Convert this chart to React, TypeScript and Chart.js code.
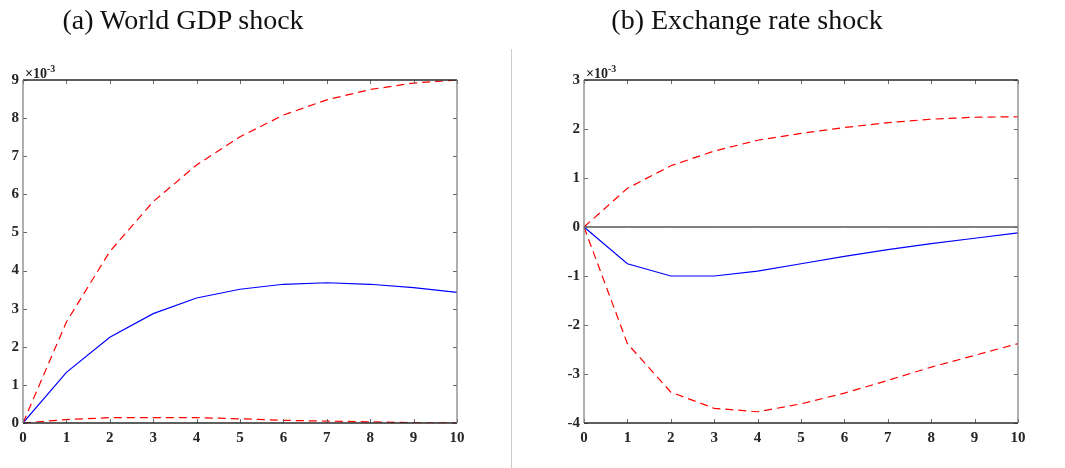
import React, { useEffect, useRef } from "react";
import { Chart, registerables } from "chart.js";

Chart.register(...registerables);

// Horizon (periods)
const xLabels = ["0", "1", "2", "3", "4", "5", "6", "7", "8", "9", "10"];

// (a) World GDP shock, values in units of 10^-3
const gdpUpper = [0, 2.65, 4.5, 5.81, 6.77, 7.51, 8.08, 8.48, 8.75, 8.92, 9.0];
const gdpIrf = [0, 1.33, 2.25, 2.87, 3.28, 3.51, 3.64, 3.68, 3.64, 3.55, 3.43];
const gdpLower = [0, 0.09, 0.14, 0.14, 0.14, 0.11, 0.07, 0.05, 0.03, 0.01, 0.0];

// (b) Exchange rate shock, values in units of 10^-3
const fxUpper = [0, 0.79, 1.25, 1.55, 1.77, 1.91, 2.03, 2.13, 2.2, 2.24, 2.25];
const fxIrf = [0, -0.75, -1.0, -1.0, -0.9, -0.75, -0.6, -0.46, -0.34, -0.23, -0.12];
const fxLower = [0, -2.38, -3.37, -3.7, -3.77, -3.61, -3.39, -3.13, -2.86, -2.62, -2.38];
const zeroLine = [0, 0, 0, 0, 0, 0, 0, 0, 0, 0, 0];

const titleA = "(a) World GDP shock";
const titleB = "(b) Exchange rate shock";
const exponentBase = "×10";
const exponentPower = "-3";

const tickFont = { family: "'Liberation Serif', 'Times New Roman', serif", size: 15, weight: "bold" as const };

const boxPlugin = {
  id: "matlabBox",
  afterDraw(chart: any) {
    const { ctx, chartArea } = chart;
    const { left, right, top, bottom } = chartArea;
    const xs = chart.scales.x;
    const ys = chart.scales.y;
    ctx.save();
    // inward ticks
    ctx.strokeStyle = "#6b6b6b";
    ctx.lineWidth = 1;
    ctx.beginPath();
    xs.ticks.forEach((_t: any, i: number) => {
      const px = Math.round(xs.getPixelForTick(i)) + 0.5;
      ctx.moveTo(px, bottom);
      ctx.lineTo(px, bottom - 4);
      ctx.moveTo(px, top);
      ctx.lineTo(px, top + 4);
    });
    ys.ticks.forEach((t: any) => {
      const py = Math.round(ys.getPixelForValue(t.value)) + 0.5;
      ctx.moveTo(left, py);
      ctx.lineTo(left + 4, py);
      ctx.moveTo(right, py);
      ctx.lineTo(right - 4, py);
    });
    ctx.stroke();
    // box
    ctx.lineWidth = 1.3;
    ctx.strokeStyle = "#2a2a2a";
    ctx.beginPath();
    ctx.moveTo(left, top);
    ctx.lineTo(right, top);
    ctx.moveTo(left, bottom);
    ctx.lineTo(right, bottom);
    ctx.stroke();
    ctx.strokeStyle = "#858585";
    ctx.beginPath();
    ctx.moveTo(left, top);
    ctx.lineTo(left, bottom);
    ctx.moveTo(right, top);
    ctx.lineTo(right, bottom);
    ctx.stroke();
    // exponent label
    ctx.fillStyle = "#222";
    ctx.textBaseline = "alphabetic";
    ctx.textAlign = "left";
    ctx.font = "bold 14px 'Liberation Serif', serif";
    const bx = left + 2;
    const by = top - 2;
    ctx.fillText(exponentBase, bx, by);
    const w = ctx.measureText(exponentBase).width;
    ctx.font = "bold 10px 'Liberation Serif', serif";
    ctx.fillText(exponentPower, bx + w, by - 6);
    ctx.restore();
  },
};

function makeConfig(
  series: { data: number[]; color: string; dash: number[]; width: number }[],
  yMin: number,
  yMax: number,
  yWidth: number,
  padRight: number
): any {
  return {
    type: "line",
    data: {
      labels: xLabels,
      datasets: series.map((s) => ({
        data: s.data,
        borderColor: s.color,
        borderWidth: s.width,
        borderDash: s.dash,
        pointRadius: 0,
        fill: false,
        tension: 0,
      })),
    },
    options: {
      animation: false,
      responsive: true,
      maintainAspectRatio: false,
      layout: { padding: { left: 0, right: padRight, top: 80, bottom: 15 } },
      plugins: { legend: { display: false }, tooltip: { enabled: false }, title: { display: false } },
      scales: {
        x: {
          type: "category",
          offset: false,
          grid: { display: false, drawTicks: false },
          border: { display: false },
          ticks: { font: tickFont, color: "#262626", padding: 6, maxRotation: 0, autoSkip: false },
          afterFit: (s: any) => {
            s.height = 30;
          },
        },
        y: {
          min: yMin,
          max: yMax,
          grid: { display: false, drawTicks: false },
          border: { display: false },
          ticks: { stepSize: 1, font: tickFont, color: "#262626", padding: 4 },
          afterFit: (s: any) => {
            s.width = yWidth;
          },
        },
      },
    },
    plugins: [boxPlugin],
  };
}

function Panel(props: { config: any; left: number; width: number }) {
  const ref = useRef<HTMLCanvasElement | null>(null);
  useEffect(() => {
    if (!ref.current) return;
    const chart = new Chart(ref.current, props.config);
    return () => chart.destroy();
  }, []);
  return (
    <div style={{ position: "absolute", left: props.left, top: 0, width: props.width, height: 468 }}>
      <canvas ref={ref} />
    </div>
  );
}

export default function App() {
  const red = "#ff0000";
  const blue = "#0000ff";
  const cfgA = makeConfig(
    [
      { data: gdpUpper, color: red, dash: [8, 5], width: 1.2 },
      { data: gdpIrf, color: blue, dash: [], width: 1.2 },
      { data: gdpLower, color: red, dash: [8, 5], width: 1.2 },
    ],
    0,
    9,
    23,
    23
  );
  const cfgB = makeConfig(
    [
      { data: zeroLine, color: "#000000", dash: [], width: 1 },
      { data: fxUpper, color: red, dash: [8, 5], width: 1.2 },
      { data: fxIrf, color: blue, dash: [], width: 1.2 },
      { data: fxLower, color: red, dash: [8, 5], width: 1.2 },
    ],
    -4,
    3,
    44,
    47
  );
  const titleStyle: React.CSSProperties = {
    position: "absolute",
    top: 1,
    width: 400,
    textAlign: "center",
    fontFamily: "'Liberation Serif', 'Times New Roman', serif",
    fontSize: 28,
    lineHeight: "38px",
    color: "#111",
    whiteSpace: "nowrap",
    zIndex: 2,
  };
  return (
    <div style={{ position: "absolute", left: 0, top: 0, width: 1065, height: 468, background: "#fff", overflow: "hidden" }}>
      <Panel config={cfgA} left={0} width={480} />
      <Panel config={cfgB} left={540} width={525} />
      <div style={{ position: "absolute", left: 511, top: 49, width: 1, height: 419, background: "#cccccc" }} />
      <div style={{ ...titleStyle, left: 183 - 200 }}>{titleA}</div>
      <div style={{ ...titleStyle, left: 747 - 200 }}>{titleB}</div>
    </div>
  );
}
